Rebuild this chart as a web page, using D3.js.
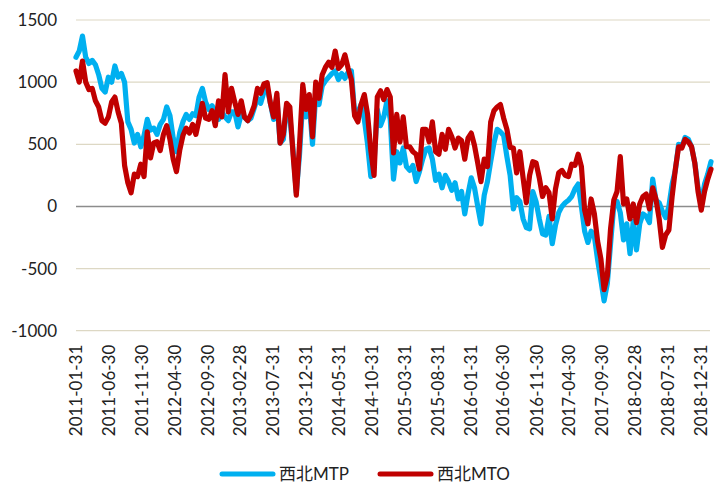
<!DOCTYPE html>
<html lang="zh">
<head>
<meta charset="UTF-8">
<title>西北MTP / 西北MTO</title>
<script src="https://cdn.jsdelivr.net/npm/d3@7"></script>
<style>
  body { margin: 0; background: #fff; }
  svg text { font-family: Lato, "Noto Sans CJK SC", sans-serif; fill: #222; }
</style>
</head>
<body>
<script>
// data, one value every 15 days from startDate
const startDate = "2011-01-31";
const stepDays = 15;

const mtpValues = [
  1200,1250,1370,1200,1150,1175,1140,1060,950,920,
  1040,1000,1130,1040,1070,1000,680,620,510,580,
  480,570,700,615,630,580,660,700,800,730,
  550,440,590,680,740,700,745,730,880,950,
  840,780,810,760,700,760,720,690,760,760,
  640,740,720,690,710,790,870,830,920,955,
  830,700,870,510,540,800,720,450,110,420,
  860,720,840,500,900,820,970,1010,1040,1070,
  1090,1020,1070,1030,1080,1090,750,760,820,700,
  500,240,350,780,650,720,850,700,220,440,
  350,470,320,290,330,200,280,380,460,470,
  380,210,260,150,250,200,130,190,60,120,
  -60,100,230,150,0,-140,90,200,360,510,
  620,600,570,400,250,-20,70,40,-100,-170,
  -180,120,40,-100,-220,-230,-80,-300,-150,-50,
  0,30,50,80,140,180,0,-200,-290,-200,
  -240,-430,-590,-760,-620,-300,10,40,-50,-270,
  -140,-380,-120,-350,-140,-60,-80,-130,220,50,
  30,-40,-90,0,180,290,500,480,555,540,
  480,350,150,20,180,260,360
];

const mtoValues = [
  1090,1000,1170,1000,940,950,850,800,690,670,
  720,840,880,760,670,330,190,110,260,240,
  340,240,600,390,510,520,450,580,650,540,
  380,280,450,570,630,590,660,580,700,830,
  710,700,770,650,850,720,1060,760,950,840,
  740,850,720,690,740,810,950,910,985,995,
  830,720,910,510,580,830,800,420,90,500,
  980,780,900,560,1000,870,1060,1120,1160,1120,
  1250,1110,1140,1220,1110,1020,730,680,820,900,
  740,450,250,880,930,860,940,880,430,740,
  520,720,480,480,440,420,300,620,620,520,
  680,440,420,580,460,620,560,470,550,530,
  380,550,590,490,350,200,380,320,680,770,
  800,820,710,620,475,470,270,440,230,30,
  250,360,350,230,80,150,110,-100,140,270,
  290,250,240,340,330,420,320,-30,-140,60,
  -60,-280,-420,-670,-560,-180,50,120,400,20,
  60,-100,20,-130,20,80,100,-20,150,60,
  -100,-330,-230,-190,80,300,480,470,540,520,
  480,350,120,-30,120,220,300
];

const seriesNames = ["西北MTP", "西北MTO"];
const seriesColors = ["#00B0F0", "#C00000"];

const tickLabels = [
  "2011-01-31","2011-06-30","2011-11-30","2012-04-30","2012-09-30",
  "2013-02-28","2013-07-31","2013-12-31","2014-05-31","2014-10-31",
  "2015-03-31","2015-08-31","2016-01-31","2016-06-30","2016-11-30",
  "2017-04-30","2017-09-30","2018-02-28","2018-07-31","2018-12-31"
];
const yTicks = [-1000, -500, 0, 500, 1000, 1500];

const width = 715, height = 484;
const plot = { left: 76, right: 711, top: 20, bottom: 330.7 };

const parseDate = d3.timeParse("%Y-%m-%d");
const start = parseDate(startDate);
const dates = d3.range(mtpValues.length).map(i => d3.timeDay.offset(start, i * stepDays));

const svg = d3.select("body").append("svg")
  .attr("width", width)
  .attr("height", height);

let x = d3.scaleTime()
  .domain([dates[0], dates[dates.length - 1]])
  .range([plot.left, plot.right]);

let y = d3.scaleLinear()
  .domain([-1000, 1500])
  .range([plot.bottom, plot.top]);

// grid lines
svg.append("g")
  .selectAll("line")
  .data(yTicks.filter(d => d !== 0))
  .join("line")
  .attr("x1", plot.left)
  .attr("x2", 710)
  .attr("y1", d => y(d))
  .attr("y2", d => y(d))
  .attr("stroke", "#DDD8C4")
  .attr("stroke-width", 1.2);

// y axis labels
let yAxis = d3.axisLeft(y)
  .tickValues(yTicks)
  .tickSize(0)
  .tickPadding(19)
  .tickFormat(d => String(d));
let yAxisGroup = svg.append("g")
  .attr("transform", `translate(${plot.left},0)`)
  .style("font-size", "17px");
yAxis(yAxisGroup);
yAxisGroup.select(".domain").remove();
yAxisGroup.selectAll("text").style("font-family", "Lato, sans-serif").attr("fill", "#222");

// x axis labels, rotated, placed below the plot
let xAxis = d3.axisBottom(x)
  .tickValues(tickLabels.map(parseDate))
  .tickSize(0)
  .tickFormat(d3.timeFormat("%Y-%m-%d"));
let xAxisGroup = svg.append("g")
  .attr("transform", `translate(0,${plot.bottom})`)
  .style("font-size", "17px");
xAxis(xAxisGroup);
xAxisGroup.select(".domain").remove();
xAxisGroup.selectAll("text")
  .attr("transform", "rotate(-90)")
  .attr("text-anchor", "end")
  .attr("x", -14)
  .attr("y", 0)
  .attr("dy", "0.35em")
  .style("font-family", "Lato, sans-serif")
  .attr("fill", "#222");

// zero line
svg.append("line")
  .attr("x1", plot.left)
  .attr("x2", 710)
  .attr("y1", y(0))
  .attr("y2", y(0))
  .attr("stroke", "#8C8C8C")
  .attr("stroke-width", 1.5);

let plotSeries = (values, color) => {
  let line = d3.line()
    .x((d, i) => x(dates[i]))
    .y(d => y(d));
  svg.append("path")
    .datum(values)
    .attr("fill", "none")
    .attr("stroke", color)
    .attr("stroke-width", 5.2)
    .attr("stroke-linejoin", "round")
    .attr("stroke-linecap", "round")
    .attr("d", line);
};

plotSeries(mtpValues, seriesColors[0]);
plotSeries(mtoValues, seriesColors[1]);

// legend
let legendX = [222, 380];
let legend = svg.append("g").attr("transform", "translate(0,474)");
seriesNames.forEach((name, i) => {
  legend.append("line")
    .attr("x1", legendX[i])
    .attr("x2", legendX[i] + 51)
    .attr("stroke", seriesColors[i])
    .attr("stroke-width", 5)
    .attr("stroke-linecap", "round");
  legend.append("text")
    .attr("x", legendX[i] + 57)
    .attr("dy", "0.36em")
    .style("font-size", "17px")
    .text(name);
});
</script>
</body>
</html>
